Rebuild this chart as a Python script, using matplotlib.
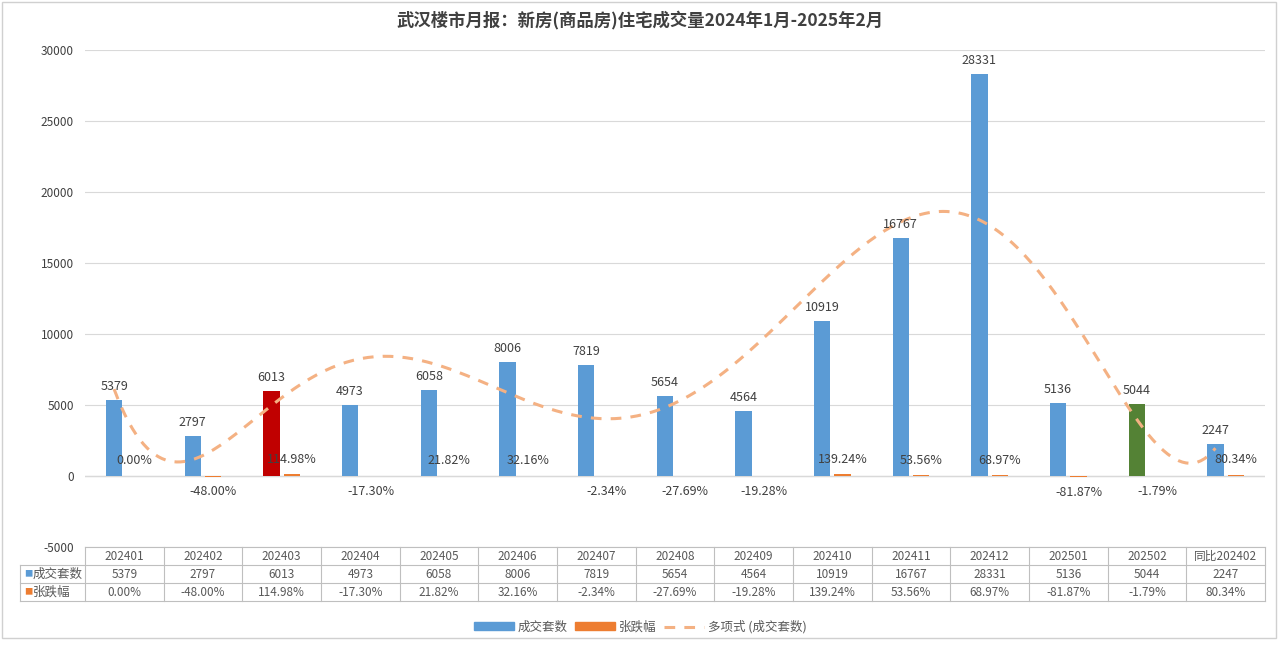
import numpy as np
import matplotlib
matplotlib.use("Agg")
from matplotlib import pyplot as plt
from matplotlib.patches import Rectangle
from matplotlib.lines import Line2D
from matplotlib.patches import Patch

plt.rcParams['font.family'] = ['Noto Sans CJK SC', 'DejaVu Sans']
plt.rcParams['axes.unicode_minus'] = False

# data
months = ["202401", "202402", "202403", "202404", "202405", "202406", "202407",
          "202408", "202409", "202410", "202411", "202412", "202501", "202502", "同比202402"]
deals = [5379, 2797, 6013, 4973, 6058, 8006, 7819, 5654, 4564, 10919, 16767, 28331, 5136, 5044, 2247]
change_pct = [0.00, -48.00, 114.98, -17.30, 21.82, 32.16, -2.34, -27.69, -19.28,
              139.24, 53.56, 68.97, -81.87, -1.79, 80.34]

blue = "#5B9BD5"
orange = "#ED7D31"
red = "#C00000"
green = "#548235"
txt = "#404040"
grid_c = "#D9D9D9"

W, H = 1280, 646
fig = plt.figure(figsize=(W / 100, H / 100), dpi=100)

x0, x1 = 85, 1265
y_top, y_bot = 50, 547
ax = fig.add_axes([x0 / W, 1 - y_bot / H, (x1 - x0) / W, (y_bot - y_top) / H])

n = len(months)
x = np.arange(n)
bw = 0.21
colors = [blue] * n
colors[2] = red
colors[13] = green

ax.bar(x - 0.13, deals, width=bw, color=colors, zorder=3)
ax.bar(x + 0.13, change_pct, width=bw, color=orange, zorder=3)

# polynomial trendline (order 6) on the deals
xs = np.arange(1, n + 1)
coef = np.polyfit(xs, deals, 6)
xf = np.linspace(1, n, 300)
ax.plot(xf - 1 - 0.13, np.polyval(coef, xf), color="#F4B183", lw=2.2,
        ls=(0, (3.5, 3)), zorder=4)

for i in range(n):
    ax.text(x[i] - 0.13, deals[i] + 500, str(deals[i]), ha="center", va="bottom",
            fontsize=9, color=txt, zorder=5)
    p = change_pct[i]
    if p >= 0:
        ax.text(x[i] + 0.13, p + 600, f"{p:.2f}%", ha="center", va="bottom",
                fontsize=9, color=txt, zorder=5)
    else:
        ax.text(x[i] + 0.13, p - 600, f"{p:.2f}%", ha="center", va="top",
                fontsize=9, color=txt, zorder=5)

ax.set_xlim(-0.5, n - 0.5)
ax.set_ylim(-5000, 30000)
ax.set_yticks(np.arange(-5000, 30001, 5000))
ax.tick_params(axis="y", length=0, labelsize=8.5, labelcolor=txt, pad=8)
ax.set_xticks([])
ax.grid(axis="y", color=grid_c, lw=0.8, zorder=0)
ax.axhline(0, color=grid_c, lw=1, zorder=2)
for s in ax.spines.values():
    s.set_visible(False)

# data table under the plot
tx0 = 20
tax = fig.add_axes([tx0 / W, 1 - 601 / H, (x1 - tx0) / W, 54 / H])
cw = (x1 - x0) / n
lab_w = (x0 - tx0) / cw
tax.set_xlim(-0.5 - lab_w, n - 0.5)
tax.set_ylim(3, 0)
tax.axis("off")
tc = "#BFBFBF"
for r in range(4):
    xl = -0.5 if r == 0 else -0.5 - lab_w
    tax.plot([xl, n - 0.5], [r, r], color=tc, lw=0.8, clip_on=False)
for c in range(n + 1):
    tax.plot([c - 0.5, c - 0.5], [0, 3], color=tc, lw=0.8, clip_on=False)
tax.plot([-0.5 - lab_w] * 2, [1, 3], color=tc, lw=0.8, clip_on=False)
for i in range(n):
    tax.text(i, 0.5, months[i], ha="center", va="center", fontsize=8.5, color="#595959")
    tax.text(i, 1.5, str(deals[i]), ha="center", va="center", fontsize=8.5, color="#595959")
    tax.text(i, 2.5, f"{change_pct[i]:.2f}%", ha="center", va="center", fontsize=8.5, color="#595959")
tax.text(-0.5 - lab_w + 0.05, 1.5, "■", color=blue, fontsize=6, va="center", ha="left")
tax.text(-0.5 - lab_w + 0.16, 1.5, "成交套数", color="#595959", fontsize=9, va="center", ha="left")
tax.text(-0.5 - lab_w + 0.05, 2.5, "■", color=orange, fontsize=6, va="center", ha="left")
tax.text(-0.5 - lab_w + 0.16, 2.5, "张跌幅", color="#595959", fontsize=9, va="center", ha="left")

fig.text(0.5, 1 - 20 / H, "武汉楼市月报：新房(商品房)住宅成交量2024年1月-2025年2月",
         ha="center", va="center", fontsize=12.5, fontweight="bold", color="#404040")

handles = [Patch(color=blue), Patch(color=orange),
           Line2D([0], [0], color="#F4B183", lw=2.2, ls=(0, (3.5, 3)))]
fig.legend(handles, ["成交套数", "张跌幅", "多项式 (成交套数)"], loc="center",
           bbox_to_anchor=(0.5, 1 - 627 / H), ncol=3, frameon=False, fontsize=9,
           handlelength=3.2, handleheight=0.6, columnspacing=0.6, handletextpad=0.3,
           labelcolor="#595959")

fig.patches.append(Rectangle((2 / W, 8 / H), 1274 / W, 636 / H, transform=fig.transFigure,
                             fill=False, edgecolor="#D0D0D0", lw=1))

fig.savefig("out.png", dpi=100, facecolor="white")
